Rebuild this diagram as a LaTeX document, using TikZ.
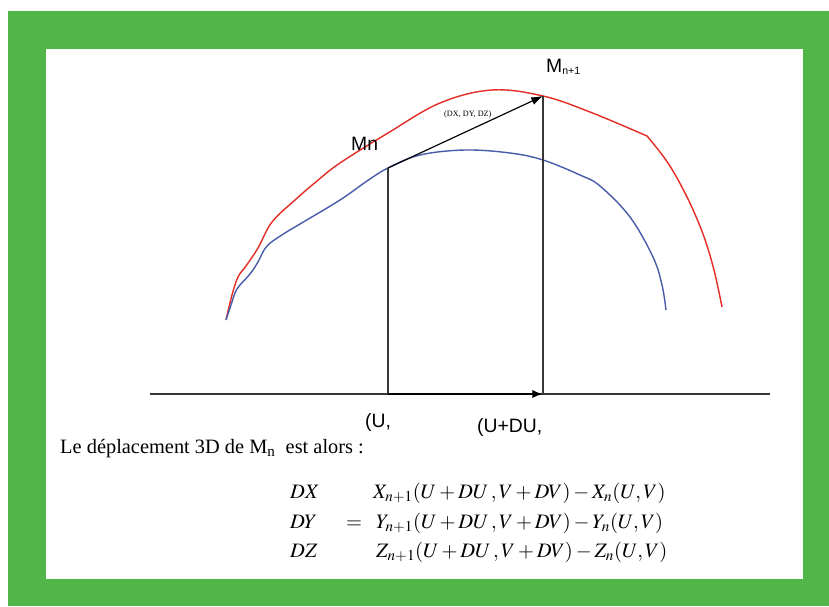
\documentclass[tikz,border=0pt]{standalone}
\usepackage{mathptmx}
\usepackage{fontspec}
\setmainfont{Liberation Serif}
\newfontfamily\arialfont{Liberation Sans}
\usetikzlibrary{arrows.meta}
\definecolor{frameGreen}{RGB}{82,181,72}
\definecolor{curveRed}{RGB}{228,45,38}
\definecolor{curveBlue}{RGB}{72,92,170}
\definecolor{axisGray}{RGB}{55,55,55}
\begin{document}
\begin{tikzpicture}[x=0.03cm, y=-0.03cm,
  curve/.style={line width=1.2pt, line join=round},
  guide/.style={line width=0.9pt, axisGray},
  sanslbl/.style={inner sep=0pt, anchor=base west, font=\arialfont\fontsize{16.5}{18}\selectfont},
  eqn/.style={inner sep=0pt, anchor=base west, font=\fontsize{17.5}{20}\selectfont}]
  \useasboundingbox (0,0) rectangle (829,606);
  \fill[white] (0,0) rectangle (829,606);
  \fill[frameGreen] (8,11) rectangle (829,606);
  \fill[white] (46,49) rectangle (803,579);
  % the two curves
  \draw[curve, curveRed] plot[smooth, tension=0.6] coordinates {(226,320) (232,295) (238,277) (246,266) (258,248) (272,222) (295,200) (317,181) (340,163) (388,133) (440,103) (492,90) (543,96) (590,112) (647,136)}
    -- plot[smooth, tension=0.6] coordinates {(647,136) (668,163) (687,197) (703,234) (714,270) (722,307)};
  \draw[curve, curveBlue] plot[smooth, tension=0.6] coordinates {(226,320) (231,305) (237,289) (250,274) (258,262) (267,246) (285,233) (300,224) (340,200) (367,181) (388,168) (420,155) (465,150) (510,153) (543,160) (580,175) (600,186) (630,217) (653,257) (662,285) (666,310)};
  % points
  \coordinate (pn) at (388,168);
  \coordinate (pn1) at (543,96);
  \coordinate (un) at (388,394);
  \coordinate (un1) at (543,394);
  \coordinate (ax0) at (150,394);
  \coordinate (ax1) at (770,394);
  \draw[guide, line width=1.3pt] (ax0) -- (ax1);
  \draw[guide] (un) -- (pn);
  \draw[guide] (un1) -- (pn1);
  \draw[line width=2.2pt, -{Latex[length=9pt, width=7pt]}] (un) -- (un1);
  \draw[line width=1pt, -{Latex[length=10pt, width=7pt]}] (pn) -- (pn1);
  % labels
  \node[sanslbl] (mn) at (351,150) {Mn};
  \node[sanslbl] (mn1) at (546,72) {M\textsubscript{\fontsize{9}{11}\selectfont n+1}};
  \node[inner sep=0pt, anchor=base west, font=\fontsize{7}{8}\selectfont] (dxyz) at (444,116) {(DX, DY, DZ)};
  \node[sanslbl] (u) at (365,427) {(U,};
  \node[sanslbl] (udu) at (477,432) {(U+DU,};
  \node[inner sep=0pt, anchor=base west, font=\fontsize{17.4}{20}\selectfont] (txt) at (60,453) {Le déplacement 3D de M\textsubscript{n}\ \ est alors :};
  % the equations
  \node[eqn] (dx) at (290,498) {$DX$};
  \node[eqn] (dy) at (290,528) {$DY$};
  \node[eqn] (dz) at (290,557) {$DZ$};
  \node[eqn] (eq) at (346,528) {$=$};
  \node[eqn] (rx) at (373,498) {$X_{n+1}(U + DU\,,V + DV) - X_n(U,V)$};
  \node[eqn] (ry) at (376,528) {$Y_{n+1}(U + DU\,,V + DV) - Y_n(U,V)$};
  \node[eqn] (rz) at (376,557) {$Z_{n+1}(U + DU\,,V + DV) - Z_n(U,V)$};
\end{tikzpicture}
\end{document}
